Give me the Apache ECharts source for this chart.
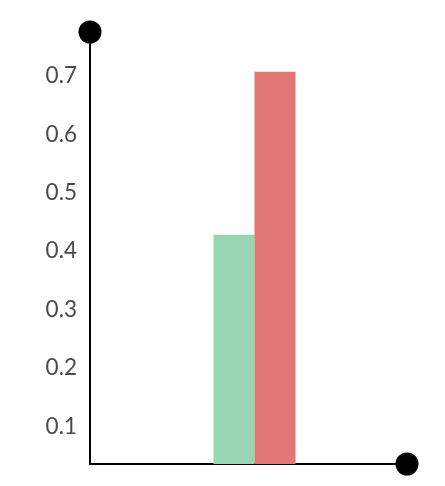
<!DOCTYPE html>
<html><head><meta charset="utf-8">
<script src="https://cdn.jsdelivr.net/npm/echarts@6/dist/echarts.min.js"></script>
<style>html,body{margin:0;padding:0;background:#fff}#c{width:445px;height:486px}</style>
</head><body><div id="c"></div>
<script>
const categories = ['A'];
const seriesNames = ['S1', 'S2'];
const valuesS1 = [0.428];
const valuesS2 = [0.707];
const yMin = 0.036, yMax = 0.775;
const colors = ['#98d5b4', '#e07772'];

const chart = echarts.init(document.getElementById('c'), null, {renderer: 'canvas'});
chart.setOption({
  animation: false,
  grid: [
    {left: 90, right: 38, top: 32, bottom: 22},
    {left: 102, right: 38, top: 32, bottom: 22}
  ],
  xAxis: [
    {type: 'category', gridIndex: 0, data: categories,
     axisLine: {lineStyle: {color: '#000', width: 2}, symbol: ['none', 'circle'], symbolSize: [23, 23]},
     axisTick: {show: false}, axisLabel: {show: false}, splitLine: {show: false}},
    {type: 'category', gridIndex: 1, data: categories, show: false}
  ],
  yAxis: [
    {type: 'value', gridIndex: 0, min: yMin, max: yMax, splitNumber: 7,
     axisLine: {show: true, lineStyle: {color: '#000', width: 2}, symbol: ['none', 'circle'], symbolSize: [23, 23]},
     axisTick: {show: false}, splitLine: {show: false},
     axisLabel: {showMinLabel: false, showMaxLabel: false, color: '#4a4a4a', fontSize: 22.5, fontFamily: 'Lato', margin: 13,
       formatter: v => (Math.abs(v*10 - Math.round(v*10)) < 1e-6 ? v.toFixed(1) : '')}},
    {type: 'value', gridIndex: 1, min: yMin, max: yMax, show: false}
  ],
  series: [
    {name: seriesNames[0], type: 'bar', xAxisIndex: 1, yAxisIndex: 1, data: valuesS1, barWidth: 41, barGap: '0%', itemStyle: {color: colors[0]}},
    {name: seriesNames[1], type: 'bar', xAxisIndex: 1, yAxisIndex: 1, data: valuesS2, barWidth: 41, barGap: '0%', itemStyle: {color: colors[1]}}
  ]
});
</script></body></html>
